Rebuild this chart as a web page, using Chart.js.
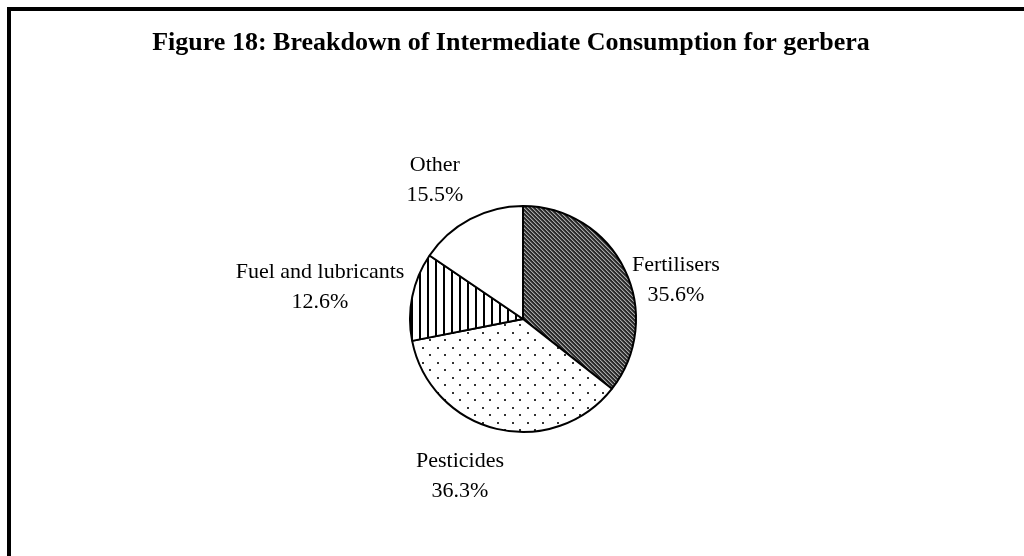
<!DOCTYPE html>
<html>
<head>
<meta charset="utf-8">
<script src="https://cdn.jsdelivr.net/npm/chart.js@4"></script>
<style>
  html, body { margin: 0; padding: 0; background: #ffffff; overflow: hidden; }
  #wrap { position: relative; width: 1024px; height: 556px; }
  canvas { display: block; }
</style>
</head>
<body>
<div id="wrap"><canvas id="c" width="1024" height="556"></canvas></div>
<script>
// ---- data ----
const chartTitle = "Figure 18: Breakdown of Intermediate Consumption for gerbera";
const categories = ["Fertilisers", "Pesticides", "Fuel and lubricants", "Other"];
const shares = [35.6, 36.3, 12.6, 15.5];
const shareLabels = ["35.6%", "36.3%", "12.6%", "15.5%"];

// ---- style (label nudges in px, relative to radial anchor) ----
const labelDist = 150;
const labelNudgeX = [18, -28, -56, -18];
const labelNudgeY = [27, 11, -2, -6];

function makePattern(w, h, draw) {
  const c = document.createElement('canvas');
  c.width = w; c.height = h;
  const g = c.getContext('2d');
  draw(g, w, h);
  return document.getElementById('c').getContext('2d').createPattern(c, 'repeat');
}
// dark with light "\" diagonal stripes
const patFert = makePattern(4, 4, (g, w, h) => {
  for (let y = 0; y < h; y++) for (let x = 0; x < w; x++) {
    const m = ((x - y) % 4 + 4) % 4;
    g.fillStyle = m === 0 ? '#a8a8a8' : (m === 1 ? '#5a5a5a' : '#2a2a2a');
    g.fillRect(x, y, 1, 1);
  }
});
// white with staggered dots
const patPest = makePattern(15, 15, (g, w, h) => {
  g.fillStyle = '#ffffff'; g.fillRect(0, 0, w, h);
  g.fillStyle = '#333333';
  g.fillRect(2, 2, 2, 2);
  g.fillRect(9, 9, 2, 2);
});
// white with vertical black lines
const patFuel = makePattern(8, 4, (g, w, h) => {
  g.fillStyle = '#ffffff'; g.fillRect(0, 0, w, h);
  g.fillStyle = '#000000'; g.fillRect(3, 0, 2, h);
});
const fills = [patFert, patPest, patFuel, '#ffffff'];

const framePlugin = {
  id: 'frame',
  beforeDraw(chart) {
    const ctx = chart.ctx;
    ctx.save();
    ctx.fillStyle = '#ffffff';
    ctx.fillRect(0, 0, chart.width, chart.height);
    ctx.strokeStyle = '#000000';
    ctx.lineWidth = 4;
    ctx.strokeRect(9, 9, chart.width + 40, chart.height + 40);
    ctx.fillStyle = '#000000';
    ctx.font = 'bold 26px "Liberation Serif", "Times New Roman", serif';
    ctx.textAlign = 'center';
    ctx.textBaseline = 'alphabetic';
    ctx.fillText(chartTitle, 511, 50);
    ctx.restore();
  }
};

const labelPlugin = {
  id: 'sliceLabels',
  afterDatasetsDraw(chart) {
    const ctx = chart.ctx;
    const meta = chart.getDatasetMeta(0);
    ctx.save();
    ctx.fillStyle = '#000000';
    ctx.font = '22px "Liberation Serif", "Times New Roman", serif';
    ctx.textAlign = 'center';
    ctx.textBaseline = 'middle';
    meta.data.forEach((arc, i) => {
      const p = arc.getProps(['x', 'y', 'startAngle', 'endAngle'], true);
      const mid = (p.startAngle + p.endAngle) / 2;
      const cx = p.x + Math.cos(mid) * labelDist + labelNudgeX[i];
      const cy = p.y + Math.sin(mid) * labelDist + labelNudgeY[i];
      ctx.fillText(categories[i], cx, cy - 15);
      ctx.fillText(shareLabels[i], cx, cy + 15);
    });
    ctx.restore();
  }
};

new Chart(document.getElementById('c'), {
  type: 'pie',
  data: {
    labels: categories,
    datasets: [{
      data: shares,
      backgroundColor: fills,
      borderColor: '#000000',
      borderWidth: 2
    }]
  },
  options: {
    responsive: false,
    animation: false,
    events: [],
    layout: { padding: { left: 22, right: 0, top: 205, bottom: 123 } },
    plugins: { legend: { display: false }, tooltip: { enabled: false }, title: { display: false } }
  },
  plugins: [framePlugin, labelPlugin]
});
</script>
</body>
</html>
